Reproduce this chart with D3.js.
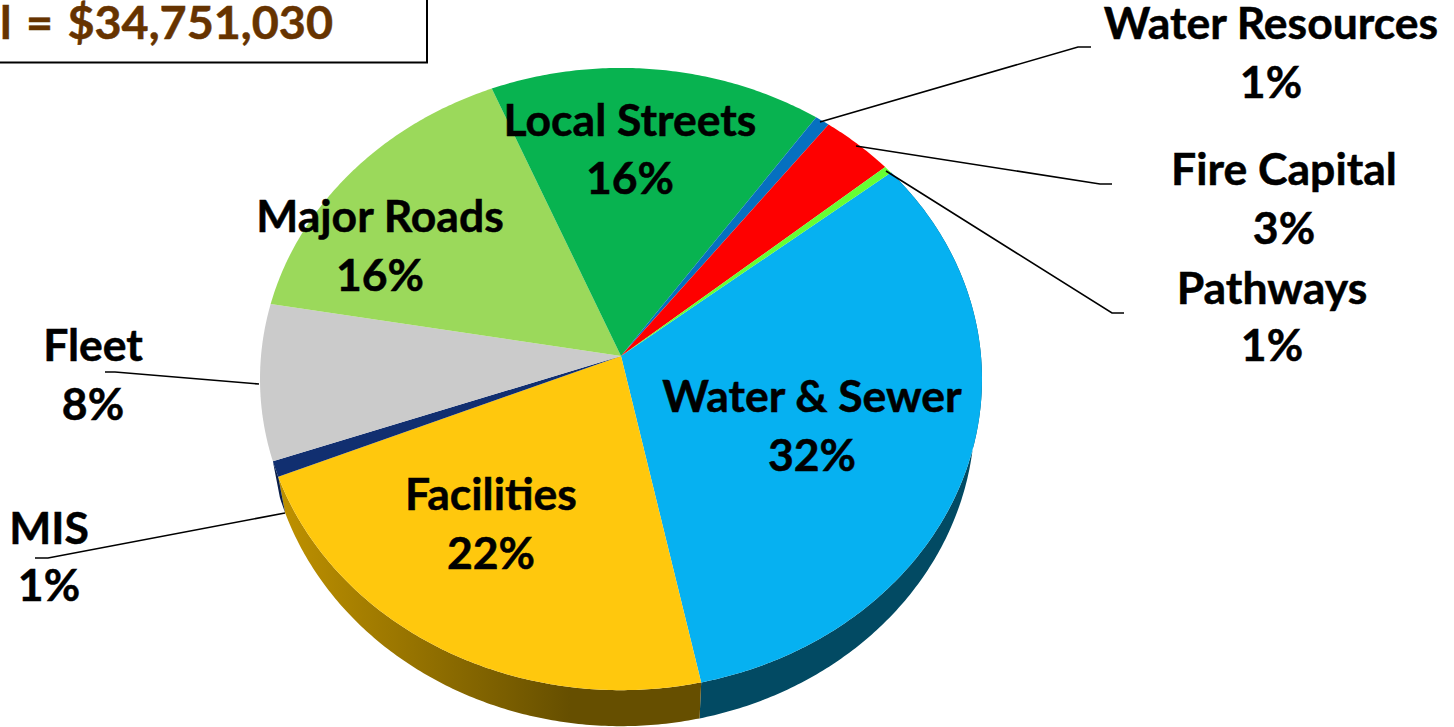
<!DOCTYPE html>
<html>
<head>
<meta charset="utf-8">
<script src="https://cdnjs.cloudflare.com/ajax/libs/d3/7.8.5/d3.min.js"></script>
<style>
  html, body { margin: 0; padding: 0; background: #fff; overflow: hidden; }
  text { font-family: Lato, "Open Sans", sans-serif; font-weight: 700; }
</style>
</head>
<body>
<div id="chart"></div>
<script>
// Chart data, clockwise from the Water & Sewer slice
var categories = ["Water & Sewer", "Facilities", "MIS", "Fleet", "Major Roads", "Local Streets", "Water Resources", "Fire Capital", "Pathways"];
var sliceValues = [32.3, 22.1, 0.8, 8.1, 16, 16, 0.7, 3.5, 0.4];
var percentLabels = ["32%", "22%", "1%", "8%", "16%", "16%", "1%", "3%", "1%"];
var titleText = "Total = $34,751,030";

// Styles and label placement
var sliceColors = ["#06b1f1", "#ffc80d", "#112f70", "#cbcbcb", "#9bd95b", "#08b350", "#0670c0", "#fe0000", "#66ff33"];
var labelX = [812, 491, 49, 93, 380, 630, 1271, 1284, 1272];
var nameY = [412, 510, 544, 361, 232, 136, 39, 185, 304];
var percentY = [471, 569, 601, 420, 291, 194, 98, 244, 361];

// Leader lines: [start, elbow, end] for the small slices
var leaders = [
  [[820, 122], [1078, 47], [1091, 47]],
  [[856, 146], [1100, 184], [1112, 184]],
  [[886, 171], [1112, 313], [1124, 313]],
  [[259, 384], [115, 372], [105, 372]],
  [[285, 513], [48, 558], [35, 558]]
];

var width = 1454;
var height = 727;
var fontSize = 44.5;

var svg = d3.select("#chart")
  .append("svg")
  .attr("width", width)
  .attr("height", height);

// Perspective view of the pie: apex sits above the centre of the ellipse
var apex = [621, 356];
var persp = -0.0741;
var radiusX = 360;
var radiusY = 309.4;

function rim(angle, drop, shrink) {
  var x = Math.sin(angle);
  var y = -Math.cos(angle);
  var w = 1 + persp * y;
  return [
    apex[0] + shrink * radiusX * x / w,
    apex[1] + drop + radiusY * y / w
  ];
}

function arcPoints(a0, a1, drop, shrink) {
  var n = Math.max(2, Math.ceil((a1 - a0) / 0.01));
  return d3.range(n + 1).map(function (i) {
    return rim(a0 + (a1 - a0) * i / n, drop, shrink);
  });
}

var pie = d3.pie()
  .sort(null)
  .startAngle(0.902)
  .endAngle(0.902 + 2 * Math.PI);

var slices = pie(sliceValues);
var line = d3.line();

// Gradient along the gold wall
var defs = svg.append("defs");
var goldWall = defs.append("linearGradient")
  .attr("id", "goldWall")
  .attr("gradientUnits", "userSpaceOnUse")
  .attr("x1", 285).attr("y1", 0)
  .attr("x2", 570).attr("y2", 0);
goldWall.append("stop").attr("offset", 0).attr("stop-color", "#bd9000");
goldWall.append("stop").attr("offset", 1).attr("stop-color", "#664f00");

// Walls first, the top of the pie covers them
var wallDrop = 36;
var wallShrink = 0.98;
var wallFills = { 0: "#024a63", 1: "url(#goldWall)", 2: "#0b1f4a" };

slices.forEach(function (d, i) {
  if (wallFills[i] === undefined) return;
  var top = arcPoints(d.startAngle, d.endAngle, 0, 1);
  var bottom = arcPoints(d.startAngle, d.endAngle, wallDrop, wallShrink).reverse();
  svg.append("path")
    .attr("d", line(top.concat(bottom)) + "Z")
    .attr("fill", wallFills[i]);
});

// Top of the pie
svg.selectAll(".slice")
  .data(slices)
  .enter().append("path")
  .attr("class", "slice")
  .attr("d", function (d) {
    return line([apex].concat(arcPoints(d.startAngle, d.endAngle, 0, 1))) + "Z";
  })
  .attr("fill", function (d, i) { return sliceColors[i]; });

// Leader lines
svg.selectAll(".leader")
  .data(leaders)
  .enter().append("path")
  .attr("class", "leader")
  .attr("d", function (d) { return line(d); })
  .attr("fill", "none")
  .attr("stroke", "#000")
  .attr("stroke-width", 1.6);

// Labels
svg.selectAll(".name")
  .data(categories)
  .enter().append("text")
  .attr("class", "name")
  .attr("x", function (d, i) { return labelX[i]; })
  .attr("y", function (d, i) { return nameY[i]; })
  .attr("text-anchor", "middle")
  .attr("stroke", "#000")
  .attr("stroke-width", 0.5)
  .style("font-size", fontSize + "px")
  .text(function (d) { return d; });

svg.selectAll(".percent")
  .data(percentLabels)
  .enter().append("text")
  .attr("class", "percent")
  .attr("x", function (d, i) { return labelX[i]; })
  .attr("y", function (d, i) { return percentY[i]; })
  .attr("text-anchor", "middle")
  .attr("stroke", "#000")
  .attr("stroke-width", 0.5)
  .style("font-size", fontSize + "px")
  .text(function (d) { return d; });

// Title box, runs off the top left of the picture
svg.append("path")
  .attr("d", line([[-5, 62.5], [427, 62.5], [427, -5]]))
  .attr("fill", "none")
  .attr("stroke", "#000")
  .attr("stroke-width", 2);

svg.append("text")
  .attr("x", 333)
  .attr("y", 39)
  .attr("text-anchor", "end")
  .attr("fill", "#663300")
  .attr("stroke", "#663300")
  .attr("stroke-width", 0.5)
  .style("font-size", "46.7px")
  .style("word-spacing", "3px")
  .text(titleText);
</script>
</body>
</html>
